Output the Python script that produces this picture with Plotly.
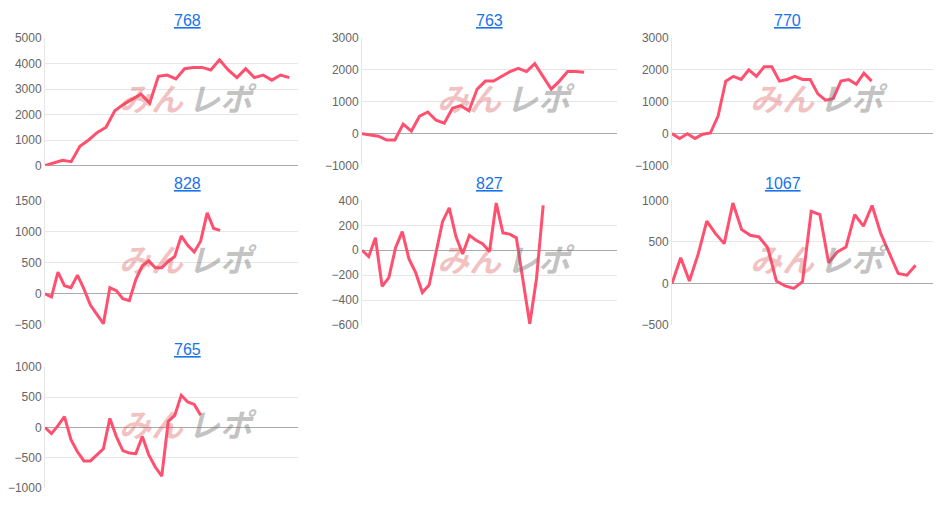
import plotly.graph_objects as go

titles = ["768", "763", "770", "828", "827", "1067", "765"]
s768 = [0,100,200,150,750,1000,1300,1500,2150,2400,2600,2800,2450,3500,3550,3400,3800,3850,3850,3750,4150,3750,3450,3800,3450,3550,3350,3550,3450]
s763 = [0,-50,-80,-200,-200,300,80,550,680,420,330,800,880,720,1400,1650,1650,1800,1950,2050,1950,2200,1800,1400,1650,1950,1950,1930]
s770 = [0,-150,0,-150,-20,20,550,1650,1800,1700,2000,1800,2100,2100,1650,1700,1800,1700,1700,1250,1050,1100,1650,1700,1550,1900,1650]
s828 = [0,-50,350,130,100,300,80,-180,-330,-480,100,50,-80,-110,230,450,530,420,420,520,600,930,780,670,850,1300,1050,1020]
s827 = [0,-50,100,-290,-220,20,150,-70,-180,-340,-280,-30,230,340,110,-30,120,80,50,-10,380,140,130,100,-250,-590,-230,360]
s1067 = [0,310,30,350,750,600,480,970,650,580,560,430,30,-30,-60,20,870,830,250,380,440,830,690,940,600,370,120,100,220]
s765 = [0,-100,30,180,-200,-400,-550,-550,-450,-350,150,-150,-380,-420,-430,-150,-450,-650,-800,100,200,530,420,380,200]
series = [s768, s763, s770, s828, s827, s1067, s765]
yranges = [(0, 5000, 1000), (-1000, 3000, 1000), (-1000, 3000, 1000), (-500, 1500, 500),
           (-600, 400, 200), (-500, 1000, 500), (-1000, 1000, 500)]
xmax = [29, 31, 34, 39, 38, 30, 39]

W, H = 941, 505
xdom = [(45, 298), (362, 617), (672, 933)]
ydom = [(32, 163), (199, 327), (370, 495)]
tdy = [14, 182, 352]

fig = go.Figure()
layout = dict(width=W, height=H, margin=dict(l=0, r=0, t=0, b=0),
              plot_bgcolor="white", paper_bgcolor="white", showlegend=False,
              font=dict(family="Arial, Liberation Sans", color="#666"))
annotations = []
for i, s in enumerate(series):
    r, c = divmod(i, 3)
    n = i + 1
    xa = "x" if n == 1 else f"x{n}"
    ya = "y" if n == 1 else f"y{n}"
    fig.add_trace(go.Scatter(x=list(range(len(s))), y=s, mode="lines",
                             line=dict(color="#ff5070", width=3), xaxis=xa, yaxis=ya))
    x0, x1 = xdom[c]
    y0, y1 = ydom[r]
    lo, hi, dt = yranges[i]
    layout["xaxis" if n == 1 else f"xaxis{n}"] = dict(
        domain=[x0 / W, x1 / W], range=[0, xmax[i]], showticklabels=False,
        showgrid=False, zeroline=False, showline=False, anchor=ya)
    layout["yaxis" if n == 1 else f"yaxis{n}"] = dict(
        domain=[1 - y1 / H, 1 - y0 / H], range=[lo, hi], dtick=dt, tick0=lo,
        gridcolor="#e6e6e6", zeroline=True, zerolinecolor="#aaa", zerolinewidth=1,
        showline=True, linecolor="#e6e6e6", ticks="", tickfont=dict(size=12, color="#666"),
        anchor=xa)
    annotations.append(dict(text=f"<u>{titles[i]}</u>", x=(x0 + x1) / 2 / W, y=1 - tdy[r] / H,
                            xref="paper", yref="paper", showarrow=False, yanchor="middle",
                            font=dict(size=16, color="#1a73e8")))
    cx = (x0 + x1) / 2 / W + 0.02
    cy = 1 - ((y0 + y1) / 2 - 5) / H
    annotations.append(dict(text="<b><i>みん</i></b>", x=cx - 0.005, y=cy, xanchor="right", yanchor="middle",
                            xref="paper", yref="paper", showarrow=False,
                            font=dict(size=32, color="rgba(220,80,80,0.35)", family="Noto Sans CJK JP")))
    annotations.append(dict(text="<b><i>レポ</i></b>", x=cx - 0.005, y=cy, xanchor="left", yanchor="middle",
                            xref="paper", yref="paper", showarrow=False,
                            font=dict(size=32, color="rgba(120,120,120,0.45)", family="Noto Sans CJK JP")))
layout["annotations"] = annotations
fig.update_layout(**layout)
fig.write_html("out.html", config={"displayModeBar": False},
               post_script="document.body.style.margin='0';document.body.style.padding='0';")
